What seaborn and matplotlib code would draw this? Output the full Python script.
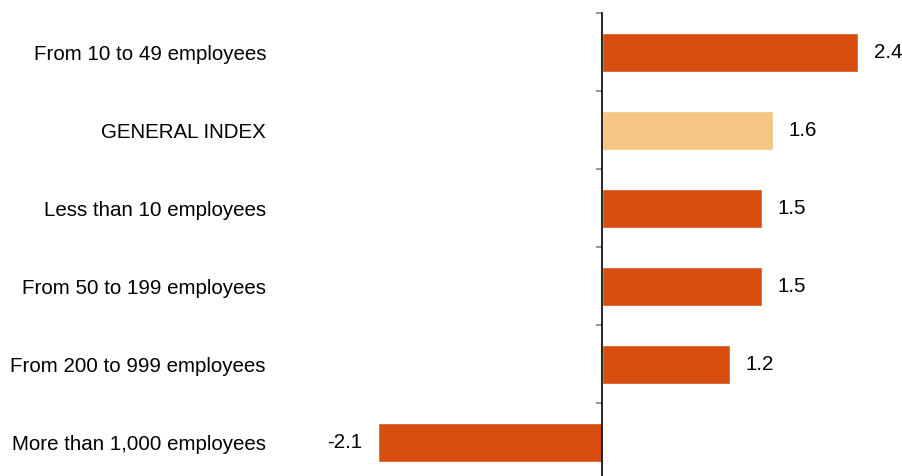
import matplotlib
matplotlib.use("Agg")
import matplotlib.pyplot as plt
import seaborn as sns
import pandas as pd
import numpy as np

categories = [
    "From 10 to 49 employees",
    "GENERAL INDEX",
    "Less than 10 employees",
    "From 50 to 199 employees",
    "From 200 to 999 employees",
    "More than 1,000 employees",
]
values = [2.4, 1.6, 1.5, 1.5, 1.2, -2.1]
highlight = "GENERAL INDEX"

BAR = "#D74E10"
LIGHT = "#F5C584"
FS = 14.8

sns.set_theme(style="white")
plt.rcParams["font.family"] = ["Liberation Sans", "DejaVu Sans"]

df = pd.DataFrame({"category": categories, "value": values})
palette = {c: (LIGHT if c == highlight else BAR) for c in categories}

fig = plt.figure(figsize=(9.03, 4.76), dpi=100)
ax = fig.add_axes([280 / 903, 0.0, 1 - 280 / 903, (476 - 13) / 476])

sns.barplot(data=df, y="category", x="value", hue="category", palette=palette,
            order=categories, hue_order=categories, orient="h", width=0.5,
            dodge=False, legend=False, saturation=1, ax=ax)

for cont in ax.containers:
    ax.bar_label(cont, fmt="%.1f", padding=11.5, fontsize=FS, color="black")

# Category axis drawn at zero with separators between rows
for s in ["top", "right", "bottom"]:
    ax.spines[s].set_visible(False)
ax.spines["left"].set_position(("data", 0))
ax.spines["left"].set_color("black")
ax.spines["left"].set_linewidth(1.2)
ax.set_xticks([])
ax.set_yticks(range(len(categories)))
ax.set_yticklabels(categories)
ax.set_yticks(np.arange(-0.5, len(categories), 1.0), minor=True)
ax.tick_params(axis="y", which="major", length=0, pad=(602 - 266) * 0.72,
               labelsize=FS, labelcolor="black")
ax.tick_params(axis="y", which="minor", length=4.5, width=1.2, color="#888888",
               direction="out", left=True)
ax.set_xlabel("")
ax.set_ylabel("")

px_per_unit = 256 / 2.4
ax.set_xlim(-(602 - 280) / px_per_unit, (903 - 602) / px_per_unit)
ax.set_ylim((476 - 52) / 78, -0.5)

fig.savefig("out.png", dpi=100)
